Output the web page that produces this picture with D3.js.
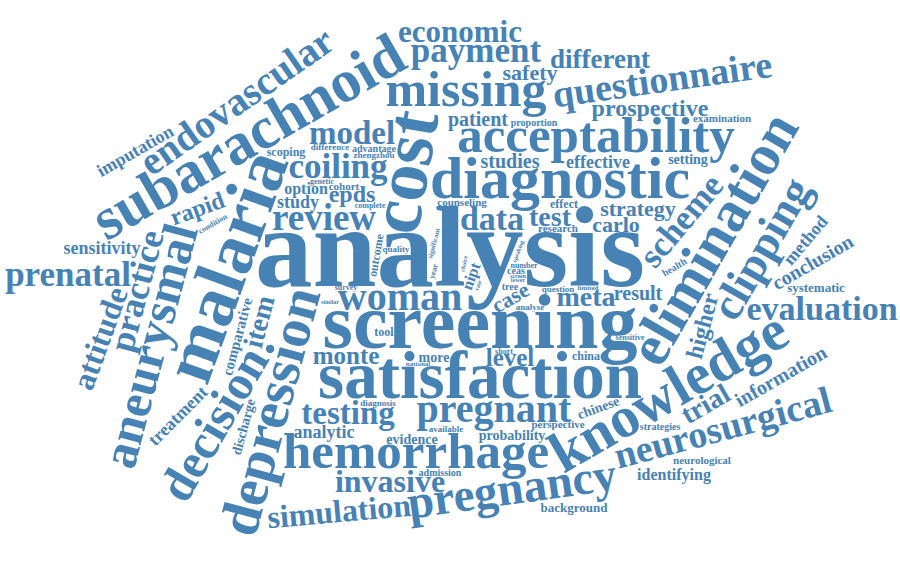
<!DOCTYPE html>
<html>
<head>
<meta charset="utf-8">
<script src="https://cdn.jsdelivr.net/npm/d3@7.9.0/dist/d3.min.js"></script>
<style>
  html, body { margin: 0; background: #fff; }
  svg { display: block; }
</style>
</head>
<body>
<svg id="chart" width="900" height="571"></svg>
<script>
// word list, frequency and orientation
const words = [
  'analysis', 'screening', 'cost', 'malaria', 'satisfaction', 'diagnostic', 'subarachnoid', 'knowledge',
  'elimination', 'depression', 'acceptability', 'hemorrhage', 'aneurysmal', 'missing', 'decision', 'pregnancy',
  'clipping', 'endovascular', 'woman', 'pregnant', 'questionnaire', 'neurosurgical', 'review', 'practice',
  'coiling', 'scheme', 'payment', 'prenatal', 'evaluation', 'data', 'testing', 'model',
  'invasive', 'simulation', 'attitude', 'economic', 'meta', 'trial', 'test', 'item',
  'different', 'monte', 'level', 'epds', 'rapid', 'prospective', 'higher', 'strategy',
  'carlo', 'case', 'safety', 'patient', 'information', 'conclusion', 'studies', 'result',
  'sensitivity', 'imputation', 'treatment', 'effective', 'analytic', 'method', 'study', 'identifying',
  'option', 'nipt', 'comparative', 'probability', 'evidence', 'setting', 'discharge', 'chinese',
  'more', 'systematic', 'background', 'scoping', 'effect', 'outcome', 'china', 'tool',
  'counseling', 'research', 'examination', 'perspective', 'neurological', 'cohort', 'advantage', 'proportion',
  'admission', 'tree', 'strategies', 'ceas', 'health', 'zhengzhou', 'diagnosis', 'analyse',
  'difference', 'question', 'quality', 'available', 'complete', 'number', 'sensitive', 'condition',
  'short', 'survey', 'genetic', 'year', 'significant', 'national', 'limited', 'similar',
  'screen', 'speaking', 'lower', 'rate', 'choice'
];

const counts = [
  115, 78, 74, 72, 67, 60, 60, 58,
  58, 56, 51, 51, 50, 50, 49, 47,
  45, 40, 40, 40, 38, 38, 37, 36,
  35, 35, 35, 35, 34, 34, 33, 33,
  32, 32, 32, 31, 28, 28, 28, 28,
  27, 25, 25, 24, 24, 24, 24, 22,
  22, 22, 22, 20, 20, 20, 20, 20,
  18, 18, 18, 18, 18, 18, 18, 16,
  16, 16, 15, 14, 14, 14, 14, 14,
  14, 13, 13, 12, 12, 12, 12, 12,
  11, 11, 11, 11, 11, 11, 10, 10,
  10, 10, 10, 10, 10, 9, 9, 9,
  9, 9, 9, 9, 8, 8, 8, 8,
  8, 8, 8, 8, 7, 7, 7, 6,
  6, 6, 6, 6, 6
];

const angles = [
  0, 0, -80, -70, 0, 0, -30, -30,
  -60, -75, 0, 0, -75, 0, -60, -8,
  -60, -35, 0, 0, -8, -15, 0, -75,
  0, -50, 0, 0, 0, 0, 0, 0,
  0, -5, -70, 0, 0, -30, 0, -75,
  0, 0, 0, 0, -20, 0, -75, 0,
  0, -30, 0, 0, -30, -30, 0, 0,
  0, -30, -45, 0, 0, -50, 0, 0,
  0, -70, -75, 0, 0, 0, -75, -20,
  0, 0, 0, 0, 0, -80, 0, 0,
  0, 0, 0, 0, 0, 0, 0, 0,
  0, 0, 0, 0, -30, 0, 0, 0,
  0, 0, 0, 0, 0, 0, 0, -30,
  0, 0, 0, -75, -75, 0, 0, 0,
  0, -70, 0, -70, -80
];

const width = 900, height = 571, cell = 2;
const color = '#4682b4';
const fontFamily = "'Liberation Serif', 'Times New Roman', serif";

const fontSize = d3.scaleLinear().domain(d3.extent(counts)).range([6, 115]);

// occupancy grid for collision checks
const gw = Math.ceil(width / cell), gh = Math.ceil(height / cell);
const board = new Uint8Array(gw * gh);

const canvas = document.createElement('canvas');
const ctx = canvas.getContext('2d', { willReadFrequently: true });

// rasterise a rotated word into a list of occupied cells around its anchor
function makeSprite(text, size, angle) {
  ctx.font = `bold ${size}px ${fontFamily}`;
  const w = ctx.measureText(text).width;
  let r = Math.ceil(Math.hypot(w / 2, size) + 2);
  r += r % cell; // keep the anchor on a cell edge
  const side = 2 * r;
  canvas.width = side;
  canvas.height = side;
  ctx.font = `bold ${size}px ${fontFamily}`;
  ctx.textAlign = 'center';
  ctx.textBaseline = 'alphabetic';
  ctx.fillStyle = '#000';
  ctx.translate(r, r);
  ctx.rotate(angle * Math.PI / 180);
  ctx.fillText(text, 0, 0);
  const img = ctx.getImageData(0, 0, side, side).data;

  const n = side / cell;
  const grid = new Uint8Array(n * n);
  for (let y = 0; y < side; y++) {
    for (let x = 0; x < side; x++) {
      if (img[(y * side + x) * 4 + 3] > 0) grid[((y / cell) | 0) * n + ((x / cell) | 0)] = 1;
    }
  }
  const c0 = r / cell;
  const offsets = [];
  let x0 = Infinity, x1 = -Infinity, y0 = Infinity, y1 = -Infinity;
  for (let j = 0; j < n; j++) {
    for (let i = 0; i < n; i++) {
      if (!grid[j * n + i]) continue;
      const dx = i - c0, dy = j - c0;
      offsets.push(dx, dy);
      if (dx < x0) x0 = dx;
      if (dx > x1) x1 = dx;
      if (dy < y0) y0 = dy;
      if (dy > y1) y1 = dy;
    }
  }
  return { offsets, x0, x1, y0, y1 };
}

function fits(sp, gx, gy) {
  if (gx + sp.x0 < 0 || gx + sp.x1 >= gw || gy + sp.y0 < 0 || gy + sp.y1 >= gh) return false;
  const o = sp.offsets;
  for (let k = 0; k < o.length; k += 2) {
    if (board[(gy + o[k + 1]) * gw + gx + o[k]]) return false;
  }
  return true;
}

function stamp(sp, gx, gy) {
  const o = sp.offsets;
  for (let k = 0; k < o.length; k += 2) board[(gy + o[k + 1]) * gw + gx + o[k]] = 1;
}

// archimedean spiral from the centre, as d3-cloud does
const ratio = width / height;
const cx = Math.floor(gw / 2), cy = Math.floor(gh / 2);

const items = words.map((text, i) => ({ text, size: fontSize(counts[i]), rotate: angles[i] }))
  .sort((a, b) => b.size - a.size);

const placed = [];
items.forEach(d => {
  const sp = makeSprite(d.text, d.size, d.rotate);
  let last = null;
  for (let t = 0; t < 8000; t++) {
    const tt = t * 0.1;
    const gx = cx + Math.round(ratio * tt * Math.cos(tt) / cell);
    const gy = cy + Math.round(tt * Math.sin(tt) / cell);
    const key = gx + ',' + gy;
    if (key === last) continue;
    last = key;
    if (fits(sp, gx, gy)) {
      stamp(sp, gx, gy);
      placed.push({ ...d, x: gx * cell, y: gy * cell });
      return;
    }
  }
});

const svg = d3.select('#chart');
svg.append('rect').attr('width', width).attr('height', height).attr('fill', '#fff');

svg.append('g')
  .selectAll('text')
  .data(placed)
  .join('text')
  .attr('text-anchor', 'middle')
  .attr('transform', d => `translate(${d.x},${d.y}) rotate(${d.rotate})`)
  .style('font-family', fontFamily)
  .style('font-weight', 'bold')
  .style('font-size', d => `${d.size}px`)
  .style('fill', color)
  .text(d => d.text);
</script>
</body>
</html>
